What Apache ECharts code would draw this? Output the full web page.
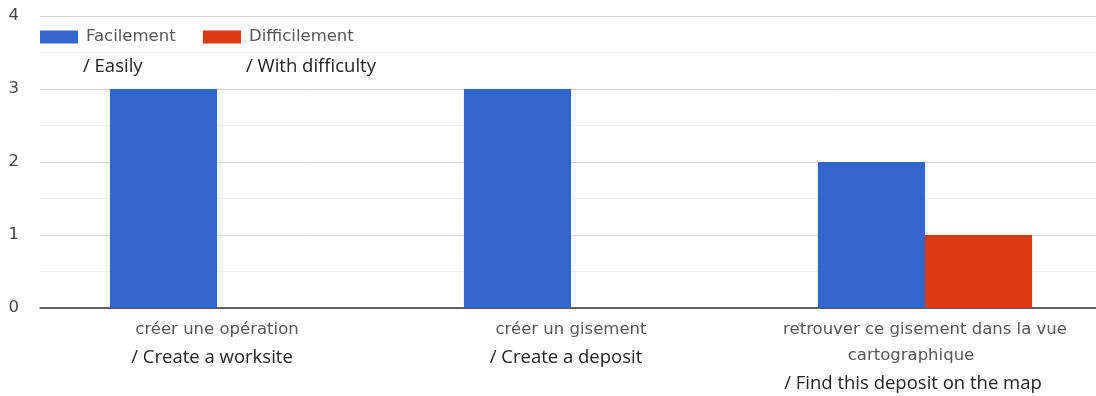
<!DOCTYPE html>
<html>
<head>
<meta charset="utf-8">
<script src="https://cdn.jsdelivr.net/npm/echarts@6/dist/echarts.min.js"></script>
<style>
  html, body { margin: 0; padding: 0; background: #fff; }
  #chart { width: 1096px; height: 396px; }
</style>
</head>
<body>
<div id="chart"></div>
<script>
// Task categories (French label, English translation)
const categoriesFr = ['créer une opération', 'créer un gisement', 'retrouver ce gisement dans la vue\ncartographique'];
const categoriesEn = ['/ Create a worksite', '/ Create a deposit', '/ Find this deposit on the map'];

// Series names (French, English translation)
const seriesFr = ['Facilement', 'Difficilement'];
const seriesEn = ['/ Easily', '/ With difficulty'];

// Counts of answers per task
const easily = [3, 3, 2];
const withDifficulty = [0, 0, 1];

// Value axis range
const yMin = 0, yMax = 4, yStep = 1;

const colors = ['#3366cc', '#dc3912'];
const frFont = 'DejaVu Sans';
const enFont = 'Open Sans';

// One legend per series so each entry sits at its own x position.
// A blank spacer line above keeps the French name level with the swatch.
function legendFor(idx, left) {
  return {
    data: [seriesFr[idx]],
    left: left,
    top: 2,
    padding: 0,
    itemWidth: 38,
    itemHeight: 13,
    icon: 'rect',
    selectedMode: false,
    formatter: name => '{s| }\n{a|' + name + '}\n{b|' + seriesEn[seriesFr.indexOf(name)] + '}',
    textStyle: {
      rich: {
        s: { fontSize: 10, lineHeight: 40 },
        a: { fontFamily: frFont, fontSize: 16.5, color: '#555', lineHeight: 20, padding: [0, 0, 0, 3] },
        b: { fontFamily: enFont, fontSize: 18.5, color: '#222', lineHeight: 40 }
      }
    }
  };
}

// Category label: French line(s), then the English translation.
// Wrapped French continuation lines and their translation sit a little left.
function categoryLabel(v, i) {
  const lines = v.split('\n');
  const wrapped = lines.length > 1;
  const fr = lines.map((l, k) => '{' + (k === 0 ? 'a' : 'a2') + '|' + l + '}').join('\n');
  return fr + '\n{' + (wrapped ? 'b2' : 'b') + '|' + categoriesEn[i] + '}';
}

const frLabel = { fontFamily: frFont, fontSize: 16.5, color: '#555', lineHeight: 26, align: 'center' };
const enLabel = { fontFamily: enFont, fontSize: 18.5, color: '#222', lineHeight: 29, align: 'center' };

const chart = echarts.init(document.getElementById('chart'), null, { renderer: 'canvas' });
chart.setOption({
  animation: false,
  color: colors,
  legend: [legendFor(0, 40), legendFor(1, 203)],
  grid: { left: 40, top: 16, width: 1062, height: 292, containLabel: false, outerBoundsMode: 'none' },
  xAxis: {
    type: 'category',
    data: categoriesFr,
    axisLine: { show: true, lineStyle: { color: '#333', width: 1.5 } },
    axisTick: { show: false },
    axisLabel: {
      interval: 0,
      margin: 9,
      formatter: categoryLabel,
      rich: {
        a: frLabel,
        a2: Object.assign({}, frLabel, { padding: [0, 28, 0, 0] }),
        b: Object.assign({}, enLabel, { padding: [0, 10, 0, 0] }),
        b2: Object.assign({}, enLabel, { padding: [0, 24, 0, 0] })
      }
    }
  },
  yAxis: {
    type: 'value',
    min: yMin,
    max: yMax,
    interval: yStep,
    axisLine: { show: false },
    axisTick: { show: false },
    axisLabel: { fontFamily: frFont, fontSize: 16.5, color: '#444', margin: 21 },
    splitLine: { lineStyle: { color: '#d6d6d6', width: 1 } },
    minorTick: { show: false, splitNumber: 2 },
    minorSplitLine: { show: true, lineStyle: { color: '#eeeeee', width: 1 } }
  },
  series: [
    { name: seriesFr[0], type: 'bar', data: easily, barGap: '0%', barCategoryGap: '39.5%' },
    { name: seriesFr[1], type: 'bar', data: withDifficulty, barGap: '0%', barCategoryGap: '39.5%' }
  ]
});
</script>
</body>
</html>
